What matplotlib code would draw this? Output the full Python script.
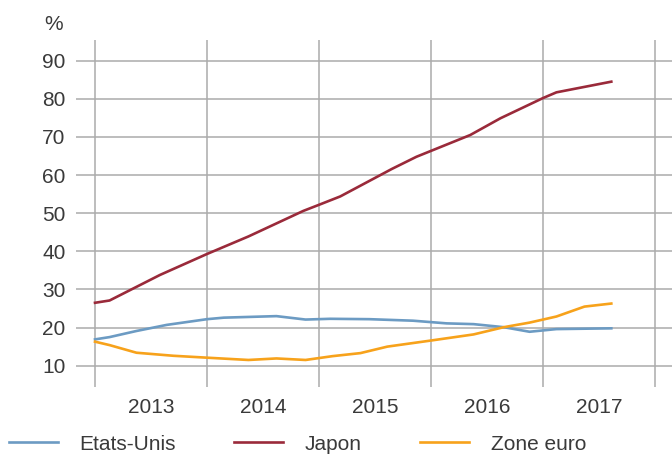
import matplotlib
matplotlib.use("Agg")
import matplotlib.pyplot as plt
import numpy as np

plt.rcParams['font.family'] = ['Liberation Sans', 'DejaVu Sans']

# Data (decimal years, percent)
us_x = [2013.0, 2013.13, 2013.37, 2013.64, 2014.0, 2014.15, 2014.62, 2014.88, 2015.1,
        2015.45, 2015.84, 2016.14, 2016.38, 2016.65, 2016.88, 2017.12, 2017.61]
us_y = [16.9, 17.5, 19.1, 20.7, 22.2, 22.6, 23.0, 22.1, 22.3,
        22.2, 21.8, 21.1, 20.9, 20.1, 18.9, 19.6, 19.8]

jp_x = [2013.0, 2013.13, 2013.58, 2014.0, 2014.37, 2014.86, 2015.0, 2015.19,
        2015.65, 2015.87, 2016.35, 2016.62, 2017.0, 2017.12, 2017.61]
jp_y = [26.5, 27.1, 33.8, 39.3, 43.9, 50.6, 52.2, 54.4,
        61.6, 64.8, 70.5, 74.9, 80.2, 81.7, 84.5]

ez_x = [2013.0, 2013.13, 2013.37, 2013.7, 2014.0, 2014.37, 2014.62, 2014.88, 2015.12,
        2015.37, 2015.61, 2016.0, 2016.38, 2016.65, 2016.88, 2017.12, 2017.37, 2017.61]
ez_y = [16.3, 15.4, 13.4, 12.6, 12.1, 11.5, 11.9, 11.5, 12.5,
        13.3, 15.0, 16.6, 18.2, 20.1, 21.3, 22.9, 25.5, 26.3]

series_labels = ["Etats-Unis", "Japon", "Zone euro"]
colors = ["#6C9BC3", "#9A2A3A", "#F7A21B"]
year_labels = ["2013", "2014", "2015", "2016", "2017"]
y_ticks = [10, 20, 30, 40, 50, 60, 70, 80, 90]

FS = 15
TXT = '#3a3a3a'

fig = plt.figure(figsize=(6.72, 4.54), dpi=100)
ax = fig.add_axes([76/672, 1-387/454, 1-76/672, (387-40)/454])

lines = []
for x, y, c, lab in zip([us_x, jp_x, ez_x], [us_y, jp_y, ez_y], colors, series_labels):
    l, = ax.plot(x, y, color=c, lw=1.9, label=lab, solid_joinstyle='round', zorder=3)
    lines.append(l)

ax.set_xlim(2013 - 19/112, 2018 + 17/112)
ax.set_ylim(4.41, 95.43)

years = np.arange(2013, 2019)
ax.set_xticks(years, minor=True)
ax.set_xticks([int(y) + 0.5 for y in year_labels])
ax.set_xticklabels(year_labels)
ax.set_yticks(y_ticks)
ax.set_yticklabels([str(v) for v in y_ticks])

ax.grid(True, which='minor', axis='x', color='#ABABAB', lw=1.1)
ax.grid(True, which='major', axis='y', color='#ABABAB', lw=1.1)
ax.grid(False, which='major', axis='x')
ax.set_axisbelow(True)

for s in ax.spines.values():
    s.set_visible(False)
ax.tick_params(axis='both', which='both', length=0, labelsize=FS, colors=TXT)
ax.tick_params(axis='x', pad=8)
ax.tick_params(axis='y', pad=7.5)

fig.text(54/672, 1-25/454, "%", ha='center', va='center', fontsize=FS, color=TXT)

leg = fig.legend(handles=lines, labels=series_labels, ncol=3, loc='center left',
                 bbox_to_anchor=(8.6/672, 1-444/454), frameon=False, fontsize=FS,
                 handlelength=2.35, handletextpad=1.05, columnspacing=2.8,
                 borderpad=0, borderaxespad=0)
for t in leg.get_texts():
    t.set_color(TXT)

fig.savefig("out.png", dpi=100)
